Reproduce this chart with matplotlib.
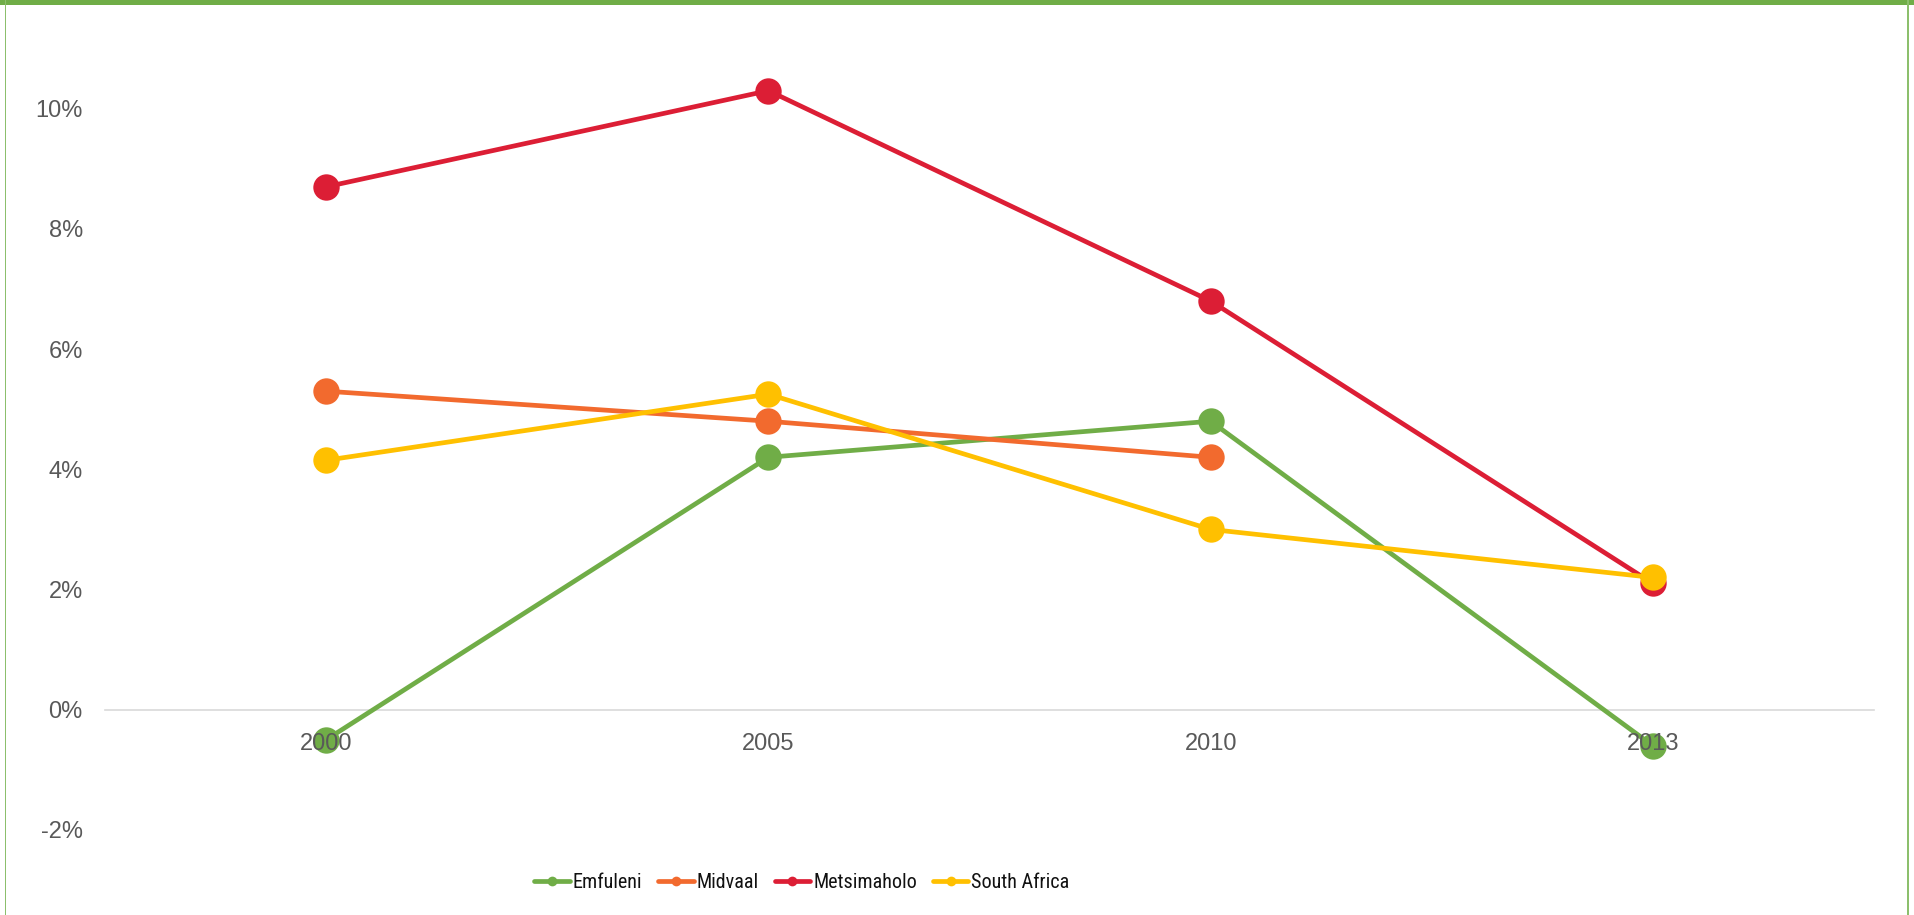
import matplotlib
matplotlib.use("Agg")
import matplotlib.pyplot as plt
from matplotlib import font_manager
from matplotlib.patches import Rectangle
from matplotlib.lines import Line2D

# ---- data -------------------------------------------------------------
years = ["2000", "2005", "2010", "2013"]
emfuleni = [-0.5, 4.2, 4.8, -0.6]
midvaal = [5.3, 4.8, 4.2, None]
metsimaholo = [8.7, 10.3, 6.8, 2.1]
south_africa = [4.15, 5.25, 3.0, 2.2]
series_names = ["Emfuleni", "Midvaal", "Metsimaholo", "South Africa"]
y_ticks = [-2, 0, 2, 4, 6, 8, 10]

colors = ["#70AD47", "#F26A2E", "#DC1E35", "#FFC000"]

# ---- fonts ------------------------------------------------------------
available = {f.name for f in font_manager.fontManager.ttflist}
base_font = "Liberation Sans" if "Liberation Sans" in available else "DejaVu Sans"
narrow_font = base_font
for cand in ["Liberation Sans Narrow", "DejaVu Sans Condensed", "Roboto Condensed",
             "Open Sans Condensed"]:
    if cand in available:
        narrow_font = cand
        break
plt.rcParams["font.family"] = [base_font, "DejaVu Sans"]

W, H = 1914, 915
fig = plt.figure(figsize=(W / 100, H / 100), dpi=100)
fig.patch.set_facecolor("white")

# plot area in pixels
left_px, right_px = 105, 1874
y0_px, px_per_pct = 709.7, 60.1
ylo, yhi = -2.0, 11.5
bottom_px = y0_px - ylo * px_per_pct
top_px = y0_px - yhi * px_per_pct
ax = fig.add_axes([left_px / W, 1 - bottom_px / H,
                   (right_px - left_px) / W, (bottom_px - top_px) / H])
ax.set_facecolor("none")
ax.set_axisbelow(False)

x = list(range(len(years)))
all_series = [emfuleni, midvaal, metsimaholo, south_africa]
for vals, name, c in zip(all_series, series_names, colors):
    xs = [xi for xi, v in zip(x, vals) if v is not None]
    ys = [v for v in vals if v is not None]
    ax.plot(xs, ys, color=c, lw=3.4, marker="o", markersize=19,
            markeredgewidth=0, label=name, solid_capstyle="round", zorder=1,
            clip_on=False)

ax.set_xlim(-0.5, len(years) - 0.5)
ax.set_ylim(ylo, yhi)
ax.set_xticks(x)
ax.set_xticklabels(years)
ax.set_yticks(y_ticks)
ax.set_yticklabels([f"{t}%" for t in y_ticks])

for s in ["top", "right", "left"]:
    ax.spines[s].set_visible(False)
ax.spines["bottom"].set_position(("data", 0))
ax.spines["bottom"].set_color("#D9D9D9")
ax.spines["bottom"].set_linewidth(1.2)
ax.spines["bottom"].set_zorder(0.5)

ax.tick_params(axis="both", length=0, labelsize=17, labelcolor="#595959")
ax.tick_params(axis="x", pad=16.5)
ax.tick_params(axis="y", pad=16)

# ---- legend -----------------------------------------------------------
handles = [Line2D([0], [0], color=c, lw=3.4, marker="o", markersize=7,
                  markeredgewidth=0, solid_capstyle="round") for c in colors]
leg = fig.legend(handles, series_names, loc="center", ncol=4,
                 bbox_to_anchor=(802 / W, 1 - 883 / H), frameon=False,
                 prop={"family": narrow_font, "size": 14.5},
                 handlelength=1.75, handletextpad=0.15, columnspacing=0.8,
                 borderpad=0)
for t in leg.get_texts():
    t.set_color("#111111")

# ---- outer frame ------------------------------------------------------
green = "#70AD47"
fig.patches.append(Rectangle((0, 1 - 5 / H), 1, 5 / H, transform=fig.transFigure,
                             facecolor=green, edgecolor="none", zorder=10))
fig.patches.append(Rectangle((4.5 / W, 0), 1.5 / W, 1, transform=fig.transFigure,
                             facecolor="#8CBF6C", edgecolor="none", zorder=10))
fig.patches.append(Rectangle((1906.5 / W, 0), 2 / W, 1, transform=fig.transFigure,
                             facecolor="#8CBF6C", edgecolor="none", zorder=10))

fig.savefig("out.png", dpi=100)
